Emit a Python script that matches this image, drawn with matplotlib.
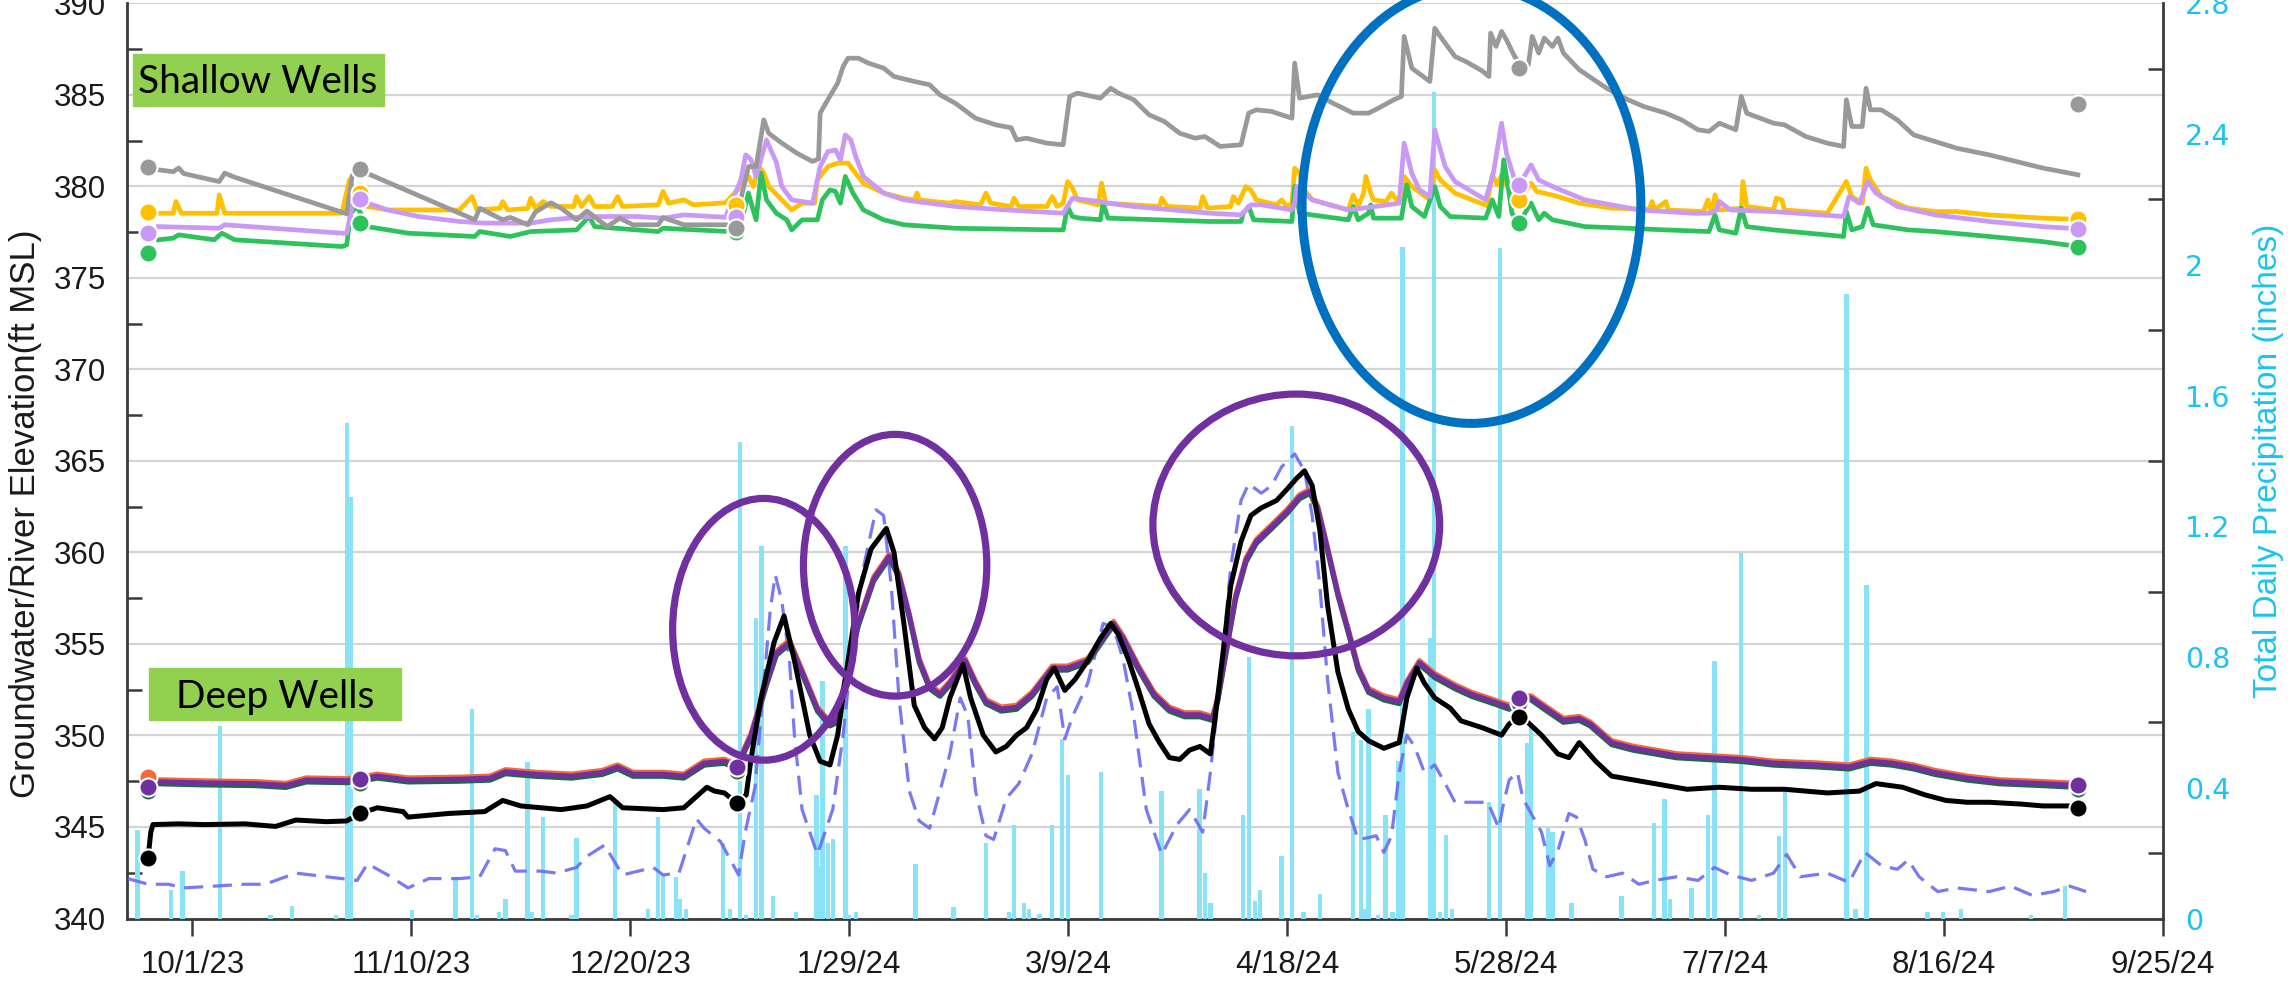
import datetime as dt
import numpy as np
import matplotlib
matplotlib.use("Agg")
import matplotlib.pyplot as plt
import matplotlib.dates as mdates
import matplotlib.patheffects as pe
from matplotlib.patches import Ellipse, Rectangle

plt.rcParams['font.family'] = ['Liberation Sans', 'DejaVu Sans']

# ---------------- data (day offsets from 2023-10-01, values) ----------------
BASE = dt.datetime(2023, 10, 1)

tick_days = [0, 40, 80, 120, 160, 200, 240, 280, 320, 360]
tick_labels = ['10/1/23', '11/10/23', '12/20/23', '1/29/24', '3/9/24',
               '4/18/24', '5/28/24', '7/7/24', '8/16/24', '9/25/24']
left_ticks = [340, 345, 350, 355, 360, 365, 370, 375, 380, 385, 390]
right_ticks = [0, 0.4, 0.8, 1.2, 1.6, 2.0, 2.4, 2.8]
right_labels = ['0', '0.4', '0.8', '1.2', '1.6', '2', '2.4', '2.8']

# shallow wells
gray = [(-6.2, 380.90), (-3.5, 380.80), (-2.5, 381.00), (-1.6, 380.70), (4.9, 380.26), (5.9, 380.72),
        (7.7, 380.50), (28.2, 378.50), (29.2, 380.60), (32.0, 380.70), (51.6, 378.17), (52.5, 378.80),
        (56.7, 378.17), (58.1, 378.30), (61.3, 377.90), (62.7, 378.60), (65.5, 379.10), (67.4, 378.80),
        (70.2, 378.17), (72.1, 378.65), (75.8, 377.80), (78.1, 378.26), (80.5, 377.90), (85.1, 377.90),
        (86.0, 378.30), (89.8, 377.90), (98.2, 377.90), (100.2, 379.30), (101.6, 381.08), (103.0, 381.08),
        (104.4, 383.63), (105.3, 382.90), (107.7, 382.36), (110.5, 381.80), (113.3, 381.36), (114.4, 381.50),
        (114.7, 384.00), (116.1, 384.73), (117.9, 385.64), (118.9, 386.55), (119.8, 387.00), (121.7, 387.00),
        (123.5, 386.73), (126.3, 386.46), (128.2, 386.00), (131.9, 385.73), (134.7, 385.55), (136.6, 385.00),
        (139.4, 384.54), (143.1, 383.72), (146.8, 383.36), (149.6, 383.20), (150.6, 382.54), (152.4, 382.63),
        (156.1, 382.36), (159.1, 382.27), (160.3, 384.91), (161.7, 385.09), (164.5, 384.91), (165.9, 384.82),
        (167.8, 385.36), (169.2, 385.09), (172.0, 384.73), (174.8, 383.91), (177.6, 383.54), (180.4, 382.90),
        (183.2, 382.63), (185.0, 382.72), (187.8, 382.18), (191.6, 382.27), (193.0, 384.00), (194.4, 384.18),
        (197.2, 384.09), (199.0, 383.91), (200.9, 383.72), (201.4, 386.73), (202.3, 384.82), (205.6, 385.00),
        (208.4, 384.54), (212.1, 384.00), (214.9, 384.00), (216.7, 384.27), (219.5, 384.73), (220.9, 384.91),
        (221.4, 388.19), (222.8, 386.46), (226.1, 385.73), (227.0, 388.64), (228.0, 388.19), (230.7, 387.09),
        (232.8, 386.80), (235.7, 386.30), (236.9, 386.00), (237.2, 388.37), (238.2, 387.64), (239.2, 388.46),
        (240.1, 388.00), (241.6, 387.09), (242.6, 386.70), (244.1, 386.64), (244.8, 388.19), (246.0, 387.28),
        (247.0, 388.10), (248.5, 387.64), (249.5, 388.10), (250.5, 387.28), (253.4, 386.37), (258.4, 385.36),
        (262.3, 384.73), (265.2, 384.36), (269.2, 384.00), (272.1, 383.63), (275.1, 383.09), (277.1, 383.00),
        (279.0, 383.45), (282.0, 383.09), (283.0, 384.91), (284.0, 384.00), (288.9, 383.45), (290.9, 383.36),
        (294.8, 382.72), (298.7, 382.36), (301.7, 382.18), (302.2, 384.73), (303.2, 383.27), (305.1, 383.27),
        (305.8, 385.36), (306.6, 384.18), (308.6, 384.18), (311.5, 383.63), (314.5, 382.81), (318.4, 382.45),
        (322.4, 382.08), (328.3, 381.72), (333.2, 381.36), (338.1, 381.00), (344.5, 380.63)]

yellow = [(-6.2, 378.53), (-3.5, 378.53), (-3.0, 379.17), (-2.0, 378.53), (4.5, 378.53), (4.9, 379.53),
          (5.9, 378.53), (27.3, 378.53), (28.7, 380.35), (29.7, 379.70), (32.0, 378.90), (35.7, 378.71),
          (48.8, 378.71), (51.1, 379.44), (52.0, 378.71), (56.2, 378.80), (56.7, 379.17), (57.6, 378.71),
          (61.3, 378.80), (61.8, 379.35), (62.7, 378.80), (64.1, 379.17), (65.5, 378.90), (69.7, 378.90),
          (70.2, 379.44), (71.1, 378.90), (72.5, 379.44), (73.5, 378.90), (76.7, 378.90), (77.7, 379.44),
          (78.6, 378.90), (85.1, 378.99), (86.0, 379.72), (87.0, 379.08), (89.8, 379.26), (91.6, 378.99),
          (97.4, 379.10), (100.2, 379.99), (101.6, 380.54), (102.5, 379.99), (103.5, 381.08), (104.4, 380.72),
          (105.3, 379.99), (107.7, 379.26), (109.5, 378.71), (111.4, 379.08), (113.7, 379.08), (114.2, 380.35),
          (116.1, 381.08), (117.9, 381.27), (119.8, 381.27), (120.7, 380.90), (122.6, 380.17), (126.3, 379.63),
          (130.0, 379.35), (131.9, 379.26), (132.4, 379.63), (132.8, 379.26), (138.4, 379.08), (139.4, 379.17),
          (144.0, 378.99), (145.0, 379.63), (145.9, 379.08), (149.6, 378.90), (150.1, 379.35), (151.0, 378.90),
          (156.1, 378.90), (157.1, 379.44), (158.0, 378.90), (159.1, 379.08), (159.9, 380.26), (160.8, 379.90),
          (161.7, 379.26), (165.5, 378.99), (166.1, 380.17), (166.9, 379.08), (176.7, 378.90), (177.1, 379.35),
          (178.1, 378.90), (184.1, 378.81), (184.6, 379.44), (185.5, 378.81), (189.7, 378.90), (190.2, 379.44),
          (191.1, 379.08), (192.5, 379.99), (193.4, 379.80), (194.4, 379.26), (198.1, 378.99), (199.0, 379.26),
          (200.0, 378.90), (200.9, 379.08), (201.4, 380.99), (202.3, 380.72), (203.2, 379.81), (204.6, 379.26),
          (211.2, 378.71), (212.1, 379.53), (213.0, 378.90), (214.0, 379.63), (214.4, 380.54), (215.3, 379.63),
          (215.8, 379.26), (218.1, 379.17), (219.1, 379.63), (220.0, 379.26), (220.9, 379.44), (221.4, 380.54),
          (222.8, 379.99), (226.1, 379.26), (227.0, 380.90), (228.0, 380.35), (230.7, 379.63), (236.5, 378.95),
          (237.5, 380.63), (238.5, 380.08), (239.2, 380.63), (239.6, 380.35), (240.6, 379.81), (242.4, 379.26),
          (244.6, 380.17), (245.6, 379.72), (247.0, 379.63), (249.5, 379.44), (253.4, 379.08), (259.3, 378.81),
          (266.2, 378.75), (266.7, 379.17), (267.2, 378.71), (269.2, 379.17), (269.7, 378.71), (276.1, 378.62),
          (276.9, 379.26), (277.6, 378.53), (278.2, 379.53), (279.0, 378.71), (283.0, 378.80), (283.3, 380.26),
          (284.0, 378.90), (288.9, 378.71), (289.4, 379.35), (290.4, 379.26), (290.9, 378.71), (298.7, 378.53),
          (302.2, 380.26), (303.2, 379.44), (305.1, 379.08), (305.8, 380.99), (306.6, 380.35), (308.6, 379.44),
          (313.5, 378.81), (318.4, 378.62), (322.4, 378.62), (328.3, 378.44), (338.1, 378.26), (344.5, 378.20)]

lavender = [(-6.2, 377.80), (4.9, 377.71), (5.9, 377.90), (27.3, 377.44), (28.2, 377.44), (29.2, 378.90),
            (30.1, 379.63), (32.0, 379.08), (35.7, 378.71), (41.3, 378.35), (48.8, 378.08), (53.4, 377.99),
            (61.8, 377.99), (65.5, 378.17), (72.1, 378.35), (81.4, 378.35), (86.0, 378.26), (89.8, 378.44),
            (97.4, 378.31), (100.2, 380.35), (101.1, 381.72), (102.1, 381.45), (103.0, 380.54), (104.9, 382.54),
            (106.7, 381.30), (107.7, 379.99), (109.5, 379.26), (111.4, 379.17), (113.3, 379.08), (114.7, 381.08),
            (116.1, 381.90), (117.5, 381.99), (118.4, 381.45), (119.3, 382.81), (120.3, 382.54), (121.2, 381.63),
            (122.6, 380.54), (126.3, 379.63), (130.0, 379.26), (139.4, 378.90), (148.7, 378.71), (159.1, 378.53),
            (160.8, 379.35), (165.9, 379.17), (167.3, 379.08), (172.0, 378.90), (186.0, 378.53), (191.6, 378.44),
            (193.4, 378.99), (195.3, 378.99), (200.9, 378.71), (201.4, 379.08), (201.8, 379.99), (204.6, 379.26),
            (211.2, 378.71), (214.0, 378.81), (220.5, 379.08), (221.4, 382.36), (222.8, 380.72), (224.2, 379.81),
            (226.1, 379.44), (227.0, 383.09), (228.9, 381.08), (230.7, 380.26), (236.3, 379.26), (237.7, 380.72),
            (239.2, 383.45), (240.1, 381.81), (241.4, 380.54), (242.4, 380.08), (244.6, 381.17), (246.0, 380.35),
            (248.5, 379.99), (254.4, 379.26), (264.3, 378.71), (274.1, 378.53), (277.1, 378.53), (278.5, 378.71),
            (279.0, 379.17), (281.0, 378.71), (288.9, 378.62), (301.7, 378.35), (302.7, 379.44), (304.6, 379.08),
            (306.1, 380.26), (307.6, 379.63), (311.5, 378.90), (318.4, 378.44), (328.3, 378.08), (338.1, 377.80),
            (344.5, 377.68)]

green = [(-6.2, 377.08), (-3.5, 377.17), (-2.5, 377.35), (4.0, 377.08), (5.4, 377.44), (7.7, 377.08),
         (27.3, 376.71), (28.2, 376.80), (28.9, 378.53), (30.1, 378.90), (32.0, 377.80), (39.4, 377.44),
         (51.6, 377.26), (52.5, 377.53), (58.1, 377.26), (61.8, 377.53), (70.2, 377.62), (72.5, 378.35),
         (73.5, 377.80), (85.1, 377.53), (86.0, 377.71), (98.2, 377.53), (100.7, 378.53), (101.6, 379.63),
         (102.1, 379.08), (103.0, 378.17), (103.9, 380.72), (104.9, 379.26), (106.7, 378.53), (108.6, 378.17),
         (109.5, 377.62), (111.4, 378.17), (114.2, 378.17), (115.1, 379.26), (116.5, 379.81), (117.5, 379.72),
         (118.4, 379.08), (119.3, 380.54), (120.7, 379.63), (122.6, 378.71), (126.3, 378.17), (130.0, 377.90),
         (139.4, 377.71), (158.0, 377.62), (159.1, 377.62), (159.9, 378.90), (160.8, 378.35), (162.2, 378.26),
         (165.9, 378.17), (166.4, 379.08), (167.3, 378.26), (186.0, 378.08), (191.6, 378.08), (192.0, 378.53),
         (193.0, 378.90), (193.9, 378.17), (200.9, 378.08), (201.4, 379.99), (202.3, 378.53), (211.2, 378.17),
         (212.1, 378.90), (213.0, 378.17), (214.9, 378.53), (215.3, 378.99), (215.8, 378.26), (220.9, 378.26),
         (221.9, 380.08), (222.8, 378.90), (225.1, 378.35), (227.0, 379.99), (228.0, 378.90), (229.8, 378.35),
         (236.3, 378.26), (237.5, 379.26), (238.7, 378.35), (239.6, 381.45), (240.4, 379.99), (241.1, 378.53),
         (242.4, 378.02), (244.6, 379.08), (246.0, 378.17), (247.0, 378.53), (248.5, 378.17), (254.4, 377.80),
         (262.3, 377.71), (269.2, 377.62), (277.1, 377.53), (278.2, 378.44), (279.0, 377.62), (282.0, 377.44),
         (283.0, 378.81), (284.0, 377.80), (288.9, 377.62), (301.7, 377.26), (302.2, 378.62), (303.2, 377.62),
         (305.1, 377.80), (306.1, 378.81), (307.1, 377.90), (313.5, 377.62), (318.4, 377.53), (328.3, 377.26),
         (338.1, 376.98), (344.5, 376.71)]

shallow_mk_days = [-8.1, 30.6, 99.4, 242.4, 344.5]
gray_mk = [381.08, 380.94, 377.75, 386.46, 384.51]
yellow_mk = [378.62, 379.63, 378.99, 379.26, 378.20]
lavender_mk = [377.44, 379.32, 378.31, 380.08, 377.68]
green_mk = [376.35, 378.02, 377.50, 378.02, 376.71]

# deep wells
deep = [(-6.2, 347.47), (2.2, 347.41), (11.5, 347.37), (17.1, 347.27), (20.8, 347.57), (28.2, 347.53),
        (30.6, 347.61), (33.8, 347.78), (39.4, 347.57), (48.8, 347.61), (54.4, 347.67), (57.2, 348.02),
        (62.7, 347.88), (69.3, 347.78), (74.9, 347.98), (77.7, 348.28), (80.5, 347.88), (86.0, 347.88),
        (89.8, 347.78), (93.5, 348.49), (97.2, 348.59), (99.5, 348.30), (102.1, 350.02), (104.9, 352.86),
        (106.7, 354.49), (109.1, 355.10), (111.4, 353.47), (114.2, 351.44), (116.5, 350.63), (117.9, 350.83),
        (119.3, 353.07), (121.7, 356.12), (124.5, 358.56), (127.3, 359.78), (129.1, 358.77), (131.0, 356.53),
        (132.8, 354.09), (134.7, 352.66), (136.6, 352.25), (138.4, 352.86), (141.2, 354.09), (143.1, 352.86),
        (145.0, 351.85), (147.8, 351.44), (150.6, 351.54), (153.4, 352.25), (157.1, 353.68), (159.9, 353.68),
        (163.6, 354.09), (166.4, 355.31), (168.3, 356.12), (170.1, 355.31), (172.9, 353.68), (175.7, 352.25),
        (178.5, 351.44), (181.3, 351.13), (184.1, 351.13), (186.4, 350.93), (187.4, 352.05), (188.8, 354.49),
        (190.6, 357.54), (192.5, 359.58), (194.4, 360.60), (197.2, 361.41), (200.0, 362.23), (202.3, 363.04),
        (204.2, 363.34), (205.6, 362.43), (207.4, 360.19), (209.3, 357.75), (211.2, 355.71), (213.0, 353.68),
        (214.9, 352.46), (217.7, 352.05), (220.5, 351.85), (221.9, 352.86), (224.2, 353.98), (227.0, 353.27),
        (230.7, 352.66), (233.7, 352.25), (237.7, 351.85), (240.6, 351.54), (242.4, 352.05), (244.6, 352.05),
        (247.5, 351.44), (250.5, 350.83), (253.4, 350.93), (255.4, 350.63), (259.3, 349.61), (263.3, 349.30),
        (267.2, 349.10), (271.2, 348.89), (277.1, 348.79), (283.0, 348.69), (288.9, 348.49), (296.8, 348.39),
        (302.7, 348.28), (306.6, 348.59), (310.5, 348.49), (314.5, 348.28), (318.4, 347.98), (324.3, 347.67),
        (330.2, 347.47), (338.1, 347.37), (344.5, 347.27)]

black = [(-8.1, 343.30), (-7.6, 344.72), (-7.2, 345.13), (-2.5, 345.17), (2.2, 345.13), (9.6, 345.17),
         (15.2, 345.03), (18.9, 345.38), (24.5, 345.29), (28.2, 345.33), (30.6, 345.74), (33.8, 346.05),
         (38.5, 345.84), (39.4, 345.54), (46.9, 345.74), (53.4, 345.84), (56.7, 346.45), (60.0, 346.15),
         (63.7, 346.05), (67.4, 345.95), (72.1, 346.15), (76.3, 346.66), (78.6, 346.05), (86.0, 345.95),
         (89.8, 346.05), (94.0, 347.17), (95.4, 346.96), (97.2, 346.86), (99.5, 346.31), (101.2, 346.76),
         (102.1, 348.79), (103.9, 352.05), (106.3, 355.10), (108.1, 356.53), (110.0, 354.09), (111.4, 352.05),
         (112.8, 350.02), (114.7, 348.59), (116.5, 348.39), (117.9, 350.02), (119.8, 354.09), (121.7, 357.75),
         (124.0, 360.19), (126.8, 361.31), (128.2, 359.99), (130.0, 356.12), (131.9, 351.64), (133.8, 350.42),
         (135.6, 349.81), (137.0, 350.42), (138.4, 352.05), (140.8, 353.88), (142.2, 352.05), (144.5, 350.02),
         (146.8, 349.10), (148.7, 349.40), (150.6, 350.02), (152.4, 350.42), (154.3, 351.44), (156.1, 353.07),
         (157.5, 353.68), (159.4, 352.46), (161.3, 353.07), (163.6, 354.09), (165.9, 355.31), (167.8, 356.12),
         (169.2, 355.51), (171.1, 354.09), (172.9, 352.46), (174.8, 350.63), (176.7, 349.61), (178.5, 348.79),
         (180.4, 348.69), (182.2, 349.20), (184.1, 349.40), (186.0, 348.99), (186.9, 351.03), (188.3, 354.49),
         (189.7, 358.16), (191.6, 360.60), (193.4, 362.02), (195.3, 362.43), (198.1, 362.84), (200.0, 363.45),
         (201.8, 364.06), (203.2, 364.46), (204.6, 363.65), (206.0, 361.21), (207.4, 357.14), (209.3, 353.47),
         (211.2, 351.44), (213.0, 350.22), (214.9, 349.71), (217.7, 349.30), (220.5, 349.61), (221.9, 352.05),
         (223.7, 353.68), (225.1, 352.86), (227.0, 352.05), (229.8, 351.50), (231.8, 350.80), (235.7, 350.42),
         (239.2, 350.02), (240.6, 350.63), (242.4, 351.03), (243.6, 350.83), (246.5, 350.02), (249.5, 348.99),
         (251.5, 348.79), (253.4, 349.61), (256.4, 348.59), (259.3, 347.78), (263.3, 347.57), (267.2, 347.37),
         (273.1, 347.06), (279.0, 347.17), (284.9, 347.06), (290.9, 347.06), (298.7, 346.86), (304.6, 346.96),
         (307.6, 347.37), (312.5, 347.17), (316.5, 346.76), (320.4, 346.45), (324.3, 346.35), (328.3, 346.35),
         (334.2, 346.25), (338.1, 346.15), (344.5, 346.15)]

river = [(-11.8, 342.18), (-8.1, 341.87), (-4.4, 341.87), (-1.6, 341.67), (4.0, 341.77), (9.6, 341.87),
         (13.3, 341.87), (18.9, 342.48), (24.5, 342.28), (30.1, 342.08), (32.0, 342.99), (35.7, 342.38),
         (39.4, 341.67), (43.2, 342.18), (48.8, 342.18), (52.5, 342.28), (55.3, 343.81), (57.2, 343.71),
         (59.0, 342.59), (63.7, 342.59), (66.5, 342.48), (70.2, 342.79), (72.1, 343.40), (75.3, 344.01),
         (78.6, 342.38), (84.2, 342.79), (86.0, 342.38), (88.9, 342.48), (92.1, 345.44), (93.5, 344.93),
         (96.5, 344.20), (99.8, 342.38), (101.0, 344.70), (102.8, 347.17), (104.3, 352.50), (105.6, 356.90),
         (106.5, 358.77), (107.7, 357.34), (109.1, 354.09), (110.0, 350.02), (111.4, 345.95), (114.2, 343.50),
         (117.0, 345.95), (118.9, 350.02), (120.7, 355.10), (122.6, 359.17), (124.9, 362.33), (126.3, 362.02),
         (127.7, 358.16), (129.1, 352.05), (131.0, 346.96), (132.8, 345.33), (134.7, 344.93), (136.6, 346.96),
         (138.4, 348.99), (140.3, 352.05), (141.7, 351.03), (143.1, 346.96), (145.0, 344.52), (146.4, 344.32),
         (148.7, 346.56), (151.0, 347.37), (153.4, 348.99), (156.1, 352.05), (158.0, 352.66), (159.4, 349.81),
         (160.8, 351.03), (163.6, 352.86), (166.4, 356.12), (168.3, 355.92), (170.1, 354.09), (172.0, 351.03),
         (174.3, 345.95), (177.1, 343.50), (179.9, 345.13), (182.2, 345.95), (184.6, 344.72), (186.0, 347.98),
         (187.8, 353.07), (189.7, 359.17), (191.6, 362.84), (193.0, 363.75), (195.3, 363.24), (197.2, 363.65),
         (199.0, 364.67), (201.4, 365.38), (203.2, 364.46), (204.6, 362.02), (206.0, 358.16), (207.4, 353.07),
         (209.3, 347.98), (211.2, 345.95), (213.0, 344.32), (214.9, 344.42), (216.3, 344.52), (217.7, 343.61),
         (219.1, 344.52), (220.5, 347.98), (221.9, 350.02), (223.3, 349.40), (225.1, 347.98), (227.0, 348.39),
         (228.9, 347.37), (230.7, 346.35), (232.8, 346.35), (236.7, 346.35), (238.7, 344.93), (239.6, 346.35),
         (240.6, 347.57), (242.1, 347.98), (243.1, 346.56), (244.6, 345.74), (246.5, 344.72), (248.0, 342.89),
         (249.5, 343.71), (251.5, 345.74), (252.9, 345.54), (254.4, 344.32), (255.9, 342.69), (258.4, 342.28),
         (261.3, 342.48), (264.3, 341.87), (267.2, 342.08), (271.2, 342.28), (275.1, 342.08), (278.1, 342.79),
         (281.0, 342.38), (284.9, 342.08), (288.9, 342.48), (291.3, 343.50), (293.8, 342.28), (298.7, 342.48),
         (302.7, 341.97), (305.6, 343.61), (308.6, 342.89), (311.5, 342.69), (313.5, 343.20), (315.5, 342.28),
         (318.9, 341.47), (322.4, 341.67), (328.3, 341.47), (332.2, 341.77), (336.2, 341.26), (340.1, 341.47),
         (343.0, 341.77), (346.0, 341.47)]

deep_mk_days = [-8.1, 30.6, 99.5, 242.4, 344.5]
purple_mk = [347.16, 347.61, 348.28, 352.05, 347.27]
dgreen_mk = [346.95, 347.40, 348.05, 351.80, 347.05]
orange_mk_day = [-8.1]
orange_mk = [347.74]
black_mk = [343.28, 345.74, 346.31, 351.03, 346.05]

# daily precipitation (inches)
rain = [(-10.0, 0.27), (-3.9, 0.087), (-1.8, 0.145), (5.1, 0.59), (14.3, 0.01), (18.2, 0.037), (26.2, 0.01),
        (28.2, 1.517), (29.0, 1.29), (40.1, 0.027), (48.1, 0.128), (51.1, 0.64), (52.0, 0.01), (56.0, 0.02),
        (57.2, 0.06), (61.2, 0.48), (62.1, 0.02), (64.1, 0.31), (69.3, 0.01), (70.2, 0.247), (77.2, 0.355),
        (83.3, 0.03), (85.1, 0.31), (86.0, 0.133), (88.4, 0.128), (89.1, 0.06), (90.2, 0.03), (97.0, 0.23),
        (98.2, 0.03), (100.0, 1.458), (101.2, 0.01), (103.0, 0.92), (104.0, 1.141), (106.1, 0.07),
        (110.3, 0.02), (114.0, 0.378), (114.5, 0.162), (115.1, 0.726), (116.1, 0.23), (117.0, 0.242),
        (119.3, 1.141), (120.0, 0.01), (121.2, 0.02), (132.1, 0.167), (139.1, 0.036), (145.0, 0.23),
        (149.2, 0.02), (150.1, 0.287), (152.0, 0.048), (152.9, 0.03), (154.8, 0.013), (157.1, 0.287),
        (158.9, 0.55), (160.0, 0.439), (166.0, 0.449), (177.1, 0.39), (184.0, 0.395), (185.0, 0.139),
        (186.0, 0.047), (192.0, 0.316), (193.0, 0.80), (194.1, 0.054), (195.1, 0.088), (199.0, 0.19),
        (200.9, 1.508), (203.0, 0.02), (206.0, 0.076), (212.1, 0.57), (213.5, 0.546), (214.0, 0.03),
        (214.9, 0.64), (216.6, 0.01), (218.0, 0.316), (219.3, 0.02), (220.3, 0.481), (221.1, 2.054),
        (226.1, 0.857), (226.9, 2.528), (228.0, 0.02), (229.1, 0.255), (230.1, 0.03), (236.9, 0.355),
        (238.9, 2.05), (243.9, 0.538), (244.6, 0.595), (247.7, 0.276), (248.5, 0.264), (252.0, 0.048),
        (261.1, 0.07), (267.0, 0.293), (269.0, 0.367), (270.0, 0.06), (273.9, 0.094), (276.9, 0.316),
        (278.1, 0.788), (283.0, 1.119), (286.2, 0.01), (289.9, 0.253), (291.0, 0.39), (302.2, 1.912),
        (303.9, 0.03), (305.9, 1.02), (317.0, 0.02), (319.9, 0.02), (323.1, 0.03), (335.9, 0.01),
        (342.1, 0.10)]

# annotation ellipses: (center day, center ft, width days, height ft)
purple_ellipses = [(104.4, 355.8, 33.3, 14.3), (128.4, 359.3, 33.5, 14.3), (201.7, 361.5, 52.4, 14.3)]
blue_ellipse = (233.7, 379.0, 61.9, 23.9)

# ---------------- helpers ----------------
X0 = mdates.date2num(BASE)


def dnum(days):
    return X0 + np.asarray(days, dtype=float)


def split(pairs):
    a = np.array(pairs, dtype=float)
    return dnum(a[:, 0]), a[:, 1]


# ---------------- figure ----------------
W, H = 2295, 984
fig = plt.figure(figsize=(W / 100, H / 100), dpi=100)
L, R, T, B = 126.7, 2162.7, 3.3, 918.5
ax = fig.add_axes([L / W, 1 - B / H, (R - L) / W, (B - T) / H])
ax2 = ax.twinx()   # precipitation bars
ax3 = ax.twinx()   # well lines on top

XMIN, XMAX = dnum(-12.0), dnum(360.0)
for a in (ax, ax2, ax3):
    a.set_xlim(XMIN, XMAX)
ax.set_ylim(340, 390)
ax3.set_ylim(340, 390)
ax2.set_ylim(0, 2.8)

spine_col = '#3a3a3a'
# left axis
ax.set_yticks(left_ticks)
ax.set_yticks(np.arange(342.5, 390, 5), minor=True)
ax.yaxis.grid(True, which='major', color='#d4d4d4', lw=1.6)
ax.set_axisbelow(True)
ax.tick_params(axis='y', which='major', length=0, pad=15, labelsize=22.5, labelcolor='#1a1a1a')
ax.tick_params(axis='y', which='minor', direction='in', length=10.5, width=1.8, color=spine_col)
ax.set_xticks(dnum(tick_days))
ax.set_xticklabels(tick_labels)
ax.tick_params(axis='x', which='major', direction='out', length=12, width=1.8, color=spine_col,
               pad=11, labelsize=22.5, labelcolor='#1a1a1a')
ax.spines['top'].set_visible(False)
ax.spines['right'].set_visible(False)
for s in ('left', 'bottom'):
    ax.spines[s].set_color(spine_col)
    ax.spines[s].set_linewidth(2)
ax.set_ylabel('Groundwater/River Elevation(ft MSL)', fontsize=25, color='#1a1a1a')
ax.yaxis.set_label_coords((26 - L) / (R - L), (B - 514) / (B - T))
ax.yaxis.label.set_verticalalignment('center')

# right axis (precipitation)
cyan = '#1cc3f0'
ax2.bar(dnum([p[0] for p in rain]), [p[1] for p in rain], width=0.8, color='#8ae2f7',
        linewidth=0, zorder=1)
ax2.set_yticks(right_ticks)
ax2.set_yticklabels(right_labels, family=['DejaVu Sans'])
ax2.set_yticks(np.arange(0.2, 2.8, 0.4), minor=True)
ax2.tick_params(axis='y', which='major', length=0, pad=16, labelsize=20.5, labelcolor=cyan)
ax2.tick_params(axis='y', which='minor', direction='in', length=10.5, width=1.8, color=spine_col)
for s in ('top', 'left', 'bottom'):
    ax2.spines[s].set_visible(False)
ax2.spines['right'].set_color(spine_col)
ax2.spines['right'].set_linewidth(2)
ax2.set_ylabel('Total Daily Precipitation (inches)', fontsize=24, color=cyan,
               family=['Liberation Sans Narrow', 'Liberation Sans'])
ax2.yaxis.set_label_coords((2269 - L) / (R - L), 0.5)
ax2.yaxis.label.set_verticalalignment('center')
ax2.yaxis.label.set_horizontalalignment('center')

# lines axis
ax3.set_axis_off()

lw_sh = 3.4
x, y = split(yellow)
ax3.plot(x, y, color='#ffc000', lw=lw_sh, solid_joinstyle='round', zorder=2)
x, y = split(green)
ax3.plot(x, y, color='#2ec25c', lw=lw_sh, solid_joinstyle='round', zorder=3)
x, y = split(lavender)
ax3.plot(x, y, color='#c999f5', lw=lw_sh, solid_joinstyle='round', zorder=4)
x, y = split(gray)
ax3.plot(x, y, color='#999999', lw=lw_sh, solid_joinstyle='round', zorder=5)

mk = dict(marker='o', ms=13, mec='white', mew=1.5, ls='none', zorder=8)
ax3.plot(dnum(shallow_mk_days), green_mk, mfc='#2ec25c', **mk)
ax3.plot(dnum(shallow_mk_days), yellow_mk, mfc='#ffc000', **mk)
ax3.plot(dnum(shallow_mk_days), lavender_mk, mfc='#c999f5', **mk)
ax3.plot(dnum(shallow_mk_days), gray_mk, mfc='#999999', **mk)

# deep wells
x, y = split(river)
ax3.plot(x, y, color='#6b6bf2', lw=2.3, dashes=(6, 3), alpha=0.9, zorder=2)
x, y = split(deep)
ax3.plot(x, y, color='#7030a0', lw=3.6, solid_joinstyle='round', zorder=3,
         path_effects=[pe.SimpleLineShadow(offset=(0, 1.5), shadow_color='#f26a3a', alpha=1),
                       pe.SimpleLineShadow(offset=(0, -1.5), shadow_color='#1d6b3c', alpha=1),
                       pe.Normal()])
x, y = split(black)
ax3.plot(x, y, color='black', lw=3.6, solid_joinstyle='round', zorder=6)

ax3.plot(dnum(orange_mk_day), orange_mk, mfc='#f26a3a', **mk)
ax3.plot(dnum(deep_mk_days), dgreen_mk, mfc='#1d6b3c', **mk)
ax3.plot(dnum(deep_mk_days), purple_mk, mfc='#7030a0', **mk)
ax3.plot(dnum(deep_mk_days), black_mk, mfc='black', **mk)

# annotation ellipses
for cd, cv, wd, hv in purple_ellipses:
    ax3.add_patch(Ellipse((dnum(cd), cv), wd, hv, fill=False, ec='#7030a0', lw=5.2,
                          zorder=9, clip_on=False))
cd, cv, wd, hv = blue_ellipse
ax3.add_patch(Ellipse((dnum(cd), cv), wd, hv, fill=False, ec='#0070c0', lw=6.5,
                      zorder=9, clip_on=False))

# label boxes
box_font = ['Lato', 'DejaVu Sans']
ax3.add_patch(Rectangle(((132.7 - L) / (R - L), (B - 106) / (B - T)), 251 / (R - L), 51.7 / (B - T),
                        transform=ax3.transAxes, color='#92d050', zorder=10, clip_on=False))
ax3.text((258 - L) / (R - L), (B - 93.3) / (B - T), 'Shallow Wells', transform=ax3.transAxes,
         ha='center', va='baseline', fontsize=28, family=box_font, color='black', zorder=11)
ax3.add_patch(Rectangle(((149 - L) / (R - L), (B - 720) / (B - T)), 252 / (R - L), 52 / (B - T),
                        transform=ax3.transAxes, color='#92d050', zorder=10, clip_on=False))
ax3.text((275.3 - L) / (R - L), (B - 708.3) / (B - T), 'Deep Wells', transform=ax3.transAxes,
         ha='center', va='baseline', fontsize=28, family=box_font, color='black', zorder=11)

fig.savefig('out.png', dpi=100)
